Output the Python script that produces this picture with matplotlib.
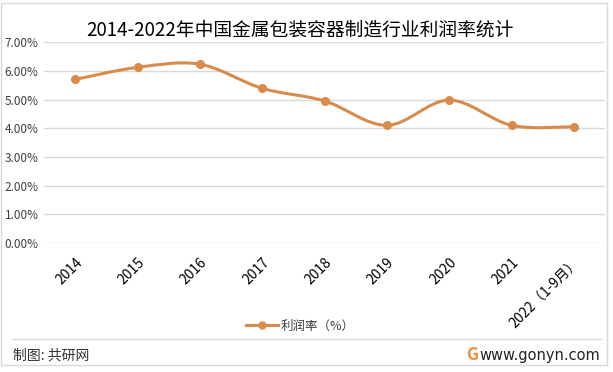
import numpy as np
import matplotlib.pyplot as plt
from matplotlib.path import Path
from matplotlib.patches import PathPatch, Rectangle
from matplotlib.lines import Line2D

plt.rcParams['font.family'] = ['Noto Sans CJK SC', 'DejaVu Sans']

years = ["2014", "2015", "2016", "2017", "2018", "2019", "2020", "2021", "2022（1-9月）"]
profit_rate = [5.70, 6.12, 6.23, 5.39, 4.95, 4.10, 4.98, 4.10, 4.05]  # %

LINE_C = "#D98B4C"
GRID_C = "#D9D9D9"


def smooth_path(xs, ys):
    # Excel-like smoothed line: Catmull-Rom segments as cubic Beziers
    pts = np.column_stack([xs, ys]).astype(float)
    verts = [pts[0]]
    codes = [Path.MOVETO]
    n = len(pts)
    for i in range(n - 1):
        p0 = pts[i - 1] if i > 0 else pts[i]
        p1, p2 = pts[i], pts[i + 1]
        p3 = pts[i + 2] if i + 2 < n else pts[i + 1]
        c1 = p1 + (p2 - p0) / 6.0
        c2 = p2 - (p3 - p1) / 6.0
        verts += [c1, c2, p2]
        codes += [Path.CURVE4] * 3
    return Path(verts, codes)


def main():
    fig = plt.figure(figsize=(6.13, 3.72), dpi=100)
    ax = fig.add_axes([0.0718, 0.3468, 0.9152, 0.540])

    x = np.arange(len(years))
    ax.add_patch(PathPatch(smooth_path(x, profit_rate), facecolor="none",
                           edgecolor=LINE_C, lw=2.2, zorder=3))
    ax.plot(x, profit_rate, linestyle="none", marker="o", ms=5.5,
            color=LINE_C, zorder=4)

    ax.set_xlim(-0.5, len(years) - 0.5)
    ax.set_ylim(0, 7)
    ax.set_yticks(np.arange(0, 8, 1))
    ax.set_yticklabels([f"{v:.2f}%" for v in range(8)], fontsize=8.5, color="#404040")
    ax.grid(axis="y", color=GRID_C, lw=1)
    ax.set_axisbelow(True)
    for s in ax.spines.values():
        s.set_visible(False)
    ax.tick_params(length=0, pad=4)

    ax.set_xticks(x)
    ax.set_xticklabels(years, rotation=45, ha="right", va="top",
                       rotation_mode="anchor", fontsize=10, color="#000000")
    ax.tick_params(axis="x", pad=9)

    fig.text(0.49, 0.918, "2014-2022年中国金属包装容器制造行业利润率统计",
             ha="center", va="center", fontsize=13.5, color="#000000")

    handle = Line2D([], [], color=LINE_C, lw=2.2, marker="o", ms=5)
    fig.legend([handle], ["利润率（%）"], loc="center", bbox_to_anchor=(0.49, 0.123),
               frameon=False, fontsize=9, handlelength=2.5, handletextpad=0.2,
               labelcolor="#404040")

    # outer border and footer
    fig.patches.append(Rectangle((0.002, 0.019), 0.989, 0.973, transform=fig.transFigure,
                                 fill=False, edgecolor=GRID_C, lw=1))
    fig.lines.append(Line2D([0.021, 0.981], [0.089, 0.089], transform=fig.transFigure,
                            color=GRID_C, lw=1))
    fig.text(0.022, 0.045, "制图: 共研网", ha="left", va="center",
             fontsize=10, color="#333333")
    fig.text(0.979, 0.045, "www.gonyn.com", ha="right", va="center",
             fontsize=10.5, color="#222222", family="DejaVu Sans")
    fig.text(0.770, 0.045, "G", ha="center", va="center", fontsize=12,
             fontweight="bold", color="#F08A3C")

    fig.savefig("out.png", dpi=100, facecolor="white")
    plt.close(fig)


if __name__ == "__main__":
    main()
